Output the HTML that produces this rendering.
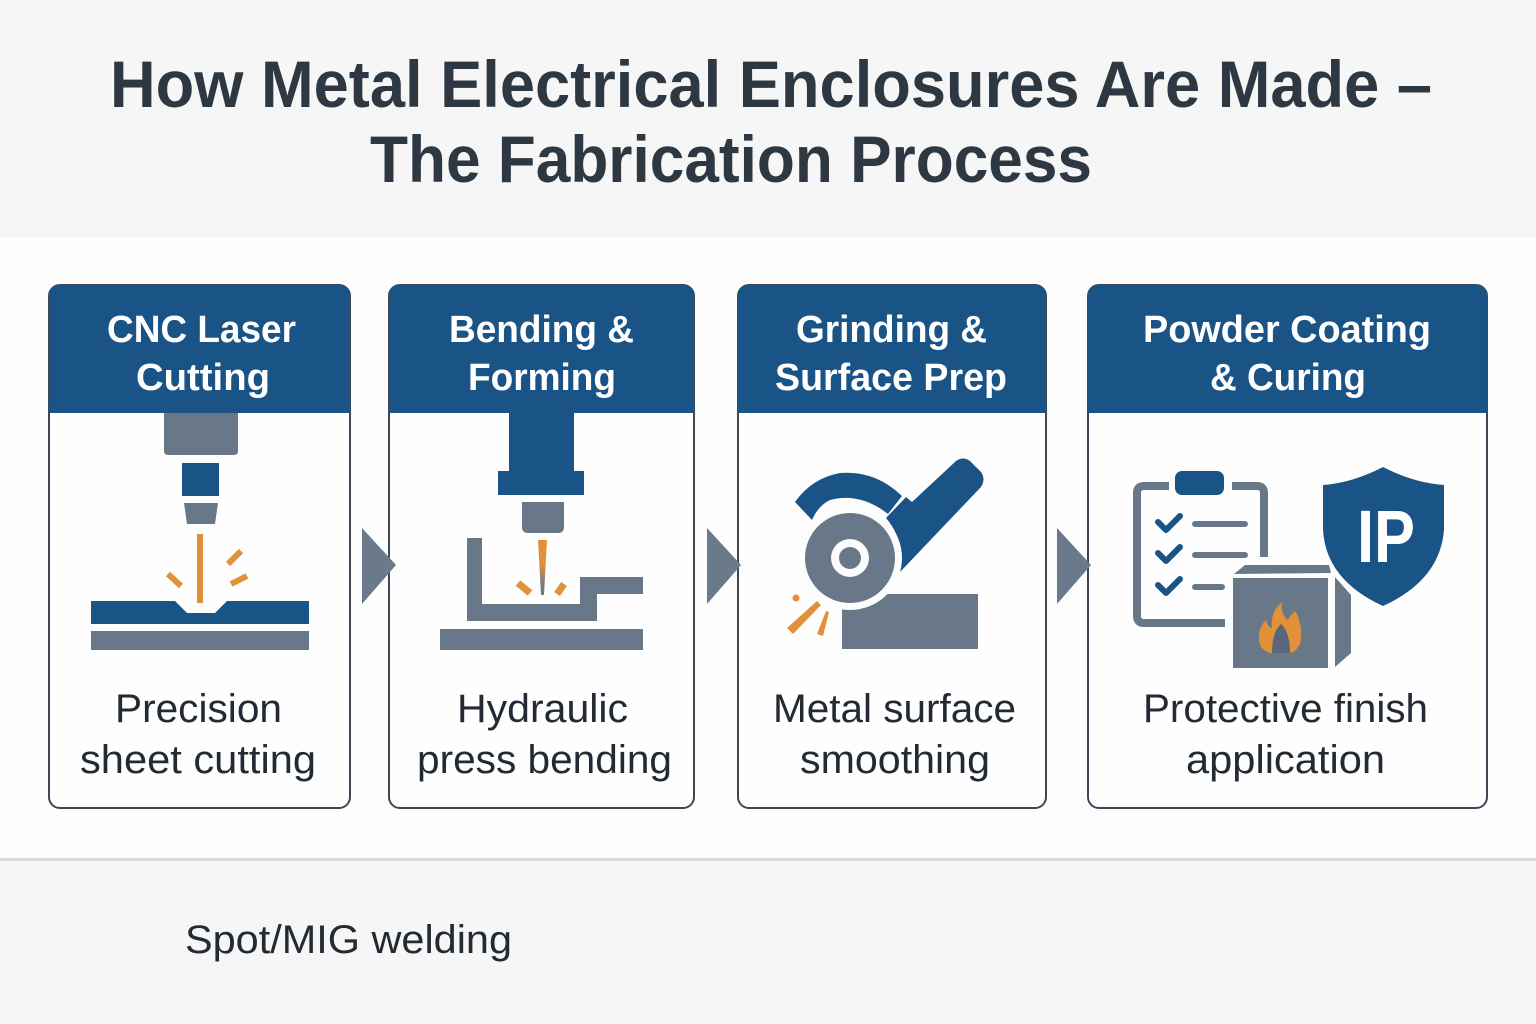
<!DOCTYPE html>
<html><head><meta charset="utf-8"><style>
html,body{margin:0;padding:0;background:#fdfdfd;}
svg{display:block;}
text{font-family:"Liberation Sans",Arial,sans-serif;}
</style></head><body>
<svg width="1536" height="1024" viewBox="0 0 1536 1024" xmlns="http://www.w3.org/2000/svg">
<rect x="0" y="0" width="1536" height="1024" fill="#fdfdfd"/>
<rect x="0" y="0" width="1536" height="237" fill="#f6f6f6"/>
<rect x="0" y="861" width="1536" height="163" fill="#f6f6f6"/>
<rect x="0" y="858" width="1536" height="3" fill="#d9d9d9"/>

<!-- Title -->
<text x="110" y="107" font-size="66" font-weight="bold" fill="#2e3842" textLength="1322" lengthAdjust="spacingAndGlyphs">How Metal Electrical Enclosures Are Made –</text>
<text x="370" y="182" font-size="66" font-weight="bold" fill="#2e3842" textLength="722" lengthAdjust="spacingAndGlyphs">The Fabrication Process</text>

<!-- Boxes -->
<g stroke="#3b4856" stroke-width="2">
<rect x="49" y="285" width="301" height="523" rx="11" fill="#fefefe"/>
<rect x="389" y="285" width="305" height="523" rx="11" fill="#fefefe"/>
<rect x="738" y="285" width="308" height="523" rx="11" fill="#fefefe"/>
<rect x="1088" y="285" width="399" height="523" rx="11" fill="#fefefe"/>
</g>
<g fill="#1a5486">
<path d="M49 413 V296 Q49 285 60 285 H339 Q350 285 350 296 V413 Z"/>
<path d="M389 413 V296 Q389 285 400 285 H683 Q694 285 694 296 V413 Z"/>
<path d="M738 413 V296 Q738 285 749 285 H1035 Q1046 285 1046 296 V413 Z"/>
<path d="M1088 413 V296 Q1088 285 1099 285 H1476 Q1487 285 1487 296 V413 Z"/>
</g>

<!-- Header text -->
<g font-size="38" font-weight="bold" fill="#ffffff">
<text x="107" y="342" textLength="189" lengthAdjust="spacingAndGlyphs">CNC Laser</text>
<text x="136" y="390" textLength="134" lengthAdjust="spacingAndGlyphs">Cutting</text>
<text x="449" y="342" textLength="185" lengthAdjust="spacingAndGlyphs">Bending &amp;</text>
<text x="468" y="390" textLength="148" lengthAdjust="spacingAndGlyphs">Forming</text>
<text x="796" y="342" textLength="191" lengthAdjust="spacingAndGlyphs">Grinding &amp;</text>
<text x="775" y="390" textLength="232" lengthAdjust="spacingAndGlyphs">Surface Prep</text>
<text x="1143" y="342" textLength="288" lengthAdjust="spacingAndGlyphs">Powder Coating</text>
<text x="1210" y="390" textLength="156" lengthAdjust="spacingAndGlyphs">&amp; Curing</text>
</g>

<!-- Body text -->
<g font-size="40" fill="#222a33">
<text x="115" y="722" textLength="167" lengthAdjust="spacingAndGlyphs">Precision</text>
<text x="80" y="773" textLength="236" lengthAdjust="spacingAndGlyphs">sheet cutting</text>
<text x="457" y="722" textLength="171" lengthAdjust="spacingAndGlyphs">Hydraulic</text>
<text x="417" y="773" textLength="255" lengthAdjust="spacingAndGlyphs">press bending</text>
<text x="773" y="722" textLength="243" lengthAdjust="spacingAndGlyphs">Metal surface</text>
<text x="800" y="773" textLength="190" lengthAdjust="spacingAndGlyphs">smoothing</text>
<text x="1143" y="722" textLength="285" lengthAdjust="spacingAndGlyphs">Protective finish</text>
<text x="1186" y="773" textLength="199" lengthAdjust="spacingAndGlyphs">application</text>
<text x="185" y="953" textLength="327" lengthAdjust="spacingAndGlyphs">Spot/MIG welding</text>
</g>

<!-- Arrows -->
<g fill="#6b7a8a">
<polygon points="362,528 396,565 362,604"/>
<polygon points="707,528 741,565 707,604"/>
<polygon points="1057,528 1091,565 1057,604"/>
</g>

<!-- Icon 1: CNC laser -->
<path d="M164 413 H238 V451 Q238 455 234 455 H168 Q164 455 164 451 Z" fill="#687888"/>
<rect x="182" y="463" width="37" height="33" fill="#1a5486"/>
<polygon points="184,503 218,503 215,524 187,524" fill="#687888"/>
<rect x="197" y="534" width="6" height="69" fill="#e0913a"/>
<g stroke="#e0913a" stroke-width="6">
<line x1="168" y1="574" x2="181" y2="586"/>
<line x1="228" y1="564" x2="241" y2="551"/>
<line x1="231" y1="584" x2="247" y2="576"/>
</g>
<path d="M91 601 H175 L187 613 H215 L227 601 H309 V624 H91 Z" fill="#1a5486"/>
<rect x="91" y="631" width="218" height="19" fill="#687888"/>

<!-- Icon 2: press -->
<path d="M509 413 H574 V471 H584 V495 H498 V471 H509 Z" fill="#1a5486"/>
<path d="M522 502 H564 V527 Q564 533 558 533 H528 Q522 533 522 527 Z" fill="#687888"/>
<defs>
<linearGradient id="beam" x1="0" y1="0" x2="0" y2="1">
<stop offset="0" stop-color="#e0913a"/>
<stop offset="0.45" stop-color="#e0913a"/>
<stop offset="0.75" stop-color="#7d7f80"/>
<stop offset="1" stop-color="#687888"/>
</linearGradient>
</defs>
<polygon points="538,540 547,540 544,595 541,595" fill="url(#beam)"/>
<g stroke="#e0913a" stroke-width="7">
<line x1="518" y1="583" x2="530" y2="593"/>
<line x1="564" y1="584" x2="557" y2="594"/>
</g>
<polygon points="467,538 482,538 482,604 580,604 580,577 643,577 643,594 597,594 597,621 467,621" fill="#687888"/>
<rect x="440" y="629" width="203" height="21" fill="#687888"/>

<!-- Icon 3: grinder -->
<rect x="842" y="594" width="136" height="55" fill="#687888"/>
<path d="M795 502 Q812 478 840 473 Q875 470 902 496 L888 514 Q860 492 830 500 Q818 506 812 520 Z" fill="#1a5486"/>
<path d="M886 518 L906 497 L912 502 L956 461 Q963 456 970 461 L981 472 Q986 479 981 487 L900 572 Q905 540 886 518 Z" fill="#1a5486"/>
<circle cx="850" cy="558" r="52" fill="#fdfdfd"/>
<circle cx="850" cy="558" r="45" fill="#687888"/>
<circle cx="850" cy="558" r="19" fill="#fdfdfd"/>
<circle cx="850" cy="558" r="11" fill="#687888"/>
<circle cx="796" cy="598" r="3.5" fill="#e0913a"/>
<polygon points="787,628 817,601 821,605 793,634" fill="#e0913a"/>
<polygon points="817,634 826,611 829,612 823,636" fill="#e0913a"/>

<!-- Icon 4: clipboard, cube, shield -->
<path d="M1169 486 H1144 Q1137 486 1137 493 V616 Q1137 623 1144 623 H1225" fill="none" stroke="#687888" stroke-width="8"/>
<path d="M1232 486 H1257 Q1264 486 1264 493 V557" fill="none" stroke="#687888" stroke-width="8"/>
<rect x="1175" y="471" width="49" height="24" rx="7" fill="#1a5486"/>
<g fill="none" stroke="#1a5486" stroke-width="6" stroke-linecap="round" stroke-linejoin="round">
<polyline points="1158,522 1166,530 1180,516"/>
<polyline points="1158,553 1166,561 1180,547"/>
<polyline points="1158,585 1166,593 1180,579"/>
</g>
<g stroke="#687888" stroke-width="6" stroke-linecap="round">
<line x1="1195" y1="524" x2="1245" y2="524"/>
<line x1="1195" y1="555" x2="1245" y2="555"/>
<line x1="1195" y1="587" x2="1222" y2="587"/>
</g>
<polygon points="1234,574 1245,565 1329,565 1331,573" fill="#687888"/>
<rect x="1233" y="578" width="95" height="90" fill="#687888"/>
<polygon points="1335,577 1351,595 1351,653 1335,667" fill="#687888"/>
<path d="M1282 602 Q1280 614 1288 620 Q1292 612 1296 612 Q1304 630 1300 644 Q1296 652 1290 653 H1270 Q1260 650 1259 640 Q1258 628 1266 620 Q1268 628 1272 628 Q1270 612 1282 602 Z" fill="#e0913a"/>
<path d="M1272 653 Q1272 632 1281 624 Q1290 632 1290 653 Z" fill="#58687a"/>
<path d="M1383 467 Q1352 483 1323 485 V530 Q1326 580 1383 606 Q1440 580 1444 530 V485 Q1414 483 1383 467 Z" fill="#1a5486"/>
<text x="1357" y="562" font-size="74" font-weight="bold" fill="#ffffff" textLength="58" lengthAdjust="spacingAndGlyphs">IP</text>
</svg>
</body></html>
